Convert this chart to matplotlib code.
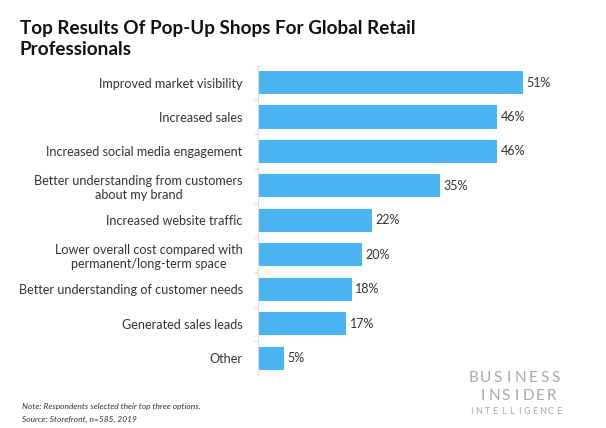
import matplotlib.pyplot as plt

# Data
categories = [
    "Improved market visibility",
    "Increased sales",
    "Increased social media engagement",
    "Better understanding from customers\nabout my brand",
    "Increased website traffic",
    "Lower overall cost compared with\npermanent/long-term space",
    "Better understanding of customer needs",
    "Generated sales leads",
    "Other",
]
values = [51, 46, 46, 35, 22, 20, 18, 17, 5]

title = "Top Results Of Pop-Up Shops For Global Retail\nProfessionals"
note = "Note: Respondents selected their top three options."
source = "Source: Storefront, n=585, 2019"

bar_color = "#4BB4F2"
text_color = "#333333"

plt.rcParams["font.family"] = ["Lato", "DejaVu Sans"]

fig = plt.figure(figsize=(6.06, 4.28), dpi=100)
ax = fig.add_axes([258 / 606, 1 - 375.5 / 428, 312 / 606, (375.5 - 65.3) / 428])

pos = list(range(len(categories)))
ax.barh(pos, values, height=0.67, color=bar_color)
ax.set_xlim(0, 60)
ax.set_ylim(len(categories) - 0.5, -0.5)

for p, v in zip(pos, values):
    ax.text(v + 0.6, p, f"{v}%", va="center", ha="left", fontsize=9, color=text_color)

ax.set_yticks(pos)
ax.set_yticklabels(categories, fontsize=9.1, color=text_color, multialignment="center")
ax.tick_params(axis="y", length=0, pad=11)
ax.set_yticks([p + 0.5 for p in pos[:-1]], minor=True)
ax.tick_params(axis="y", which="minor", length=3, color="#dddddd", width=0.8)
ax.set_xticks([])
for s in ["top", "right", "bottom"]:
    ax.spines[s].set_visible(False)
ax.spines["left"].set_color("#dddddd")
ax.spines["left"].set_linewidth(0.8)

fig.text(20 / 606, 1 - 20 / 428, title, fontsize=13.6, fontweight="bold", color="#111111",
         va="top", ha="left", linespacing=1.3)

fig.text(22 / 606, 1 - 407 / 428, note, fontsize=6, style="italic", color=text_color, va="center")
fig.text(22 / 606, 1 - 419 / 428, source, fontsize=6, style="italic", color=text_color, va="center")


# spaced logo letters
def spaced(word, x0, x1, y, size):
    n = len(word)
    for i, ch in enumerate(word):
        x = x0 + (x1 - x0) * i / (n - 1)
        fig.text(x / 606, 1 - y / 428, ch, fontsize=size, color="#a8a8a8",
                 ha="center", va="center")


spaced("BUSINESS", 474, 556, 378, 11)
spaced("INSIDER", 483, 551, 396, 11)
spaced("INTELLIGENCE", 471, 559, 412, 6.5)

fig.savefig("out.png", dpi=100)
